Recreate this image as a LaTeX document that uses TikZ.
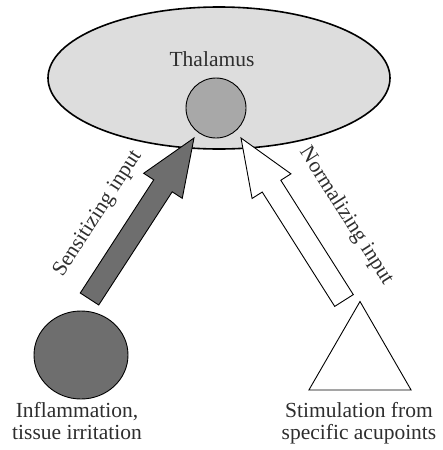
\documentclass[tikz,border=0pt]{standalone}
\usepackage{fontspec}
\setmainfont{Liberation Serif}
\usetikzlibrary{calc,shapes.geometric}
\definecolor{thalfill}{gray}{0.865}
\definecolor{corefill}{gray}{0.66}
\definecolor{darkfill}{gray}{0.43}
\definecolor{txt}{gray}{0.18}
\newcommand\blockarrow[3]{%
  \coordinate (#2-h) at ($(#3)!57pt!(#2)$);
  \draw[#1] ($(#2)!11pt!90:(#3)$) -- ($(#2-h)!11pt!90:(#3)$) -- ($(#2-h)!23pt!90:(#3)$)
    -- (#3) -- ($(#2-h)!23pt!-90:(#3)$) -- ($(#2-h)!11pt!-90:(#3)$) -- ($(#2)!11pt!-90:(#3)$) -- cycle;}
\begin{document}
\begin{tikzpicture}[x=1pt,y=-1pt,
  lbl/.style={text=txt,font=\fontsize{21.5}{22}\selectfont,inner sep=0pt},
  shapeline/.style={draw=black,line width=0.9pt},
  arrowshape/.style={draw=black,line width=0.9pt,line join=miter}]
\useasboundingbox (0,0) rectangle (442,450);
% thalamus
\node[ellipse,draw=black,line width=1.6pt,fill=thalfill,minimum width=342pt,minimum height=142pt,inner sep=0pt] (thal) at (219,78) {};
\node[lbl,anchor=base] (thaltxt) at (212,66) {Thalamus};
\node[circle,shapeline,fill=corefill,minimum size=60pt,inner sep=0pt] (core) at (216,108) {};
% sources
\node[ellipse,shapeline,fill=darkfill,minimum width=94pt,minimum height=88pt,inner sep=0pt] (infl) at (81,355) {};
\node[regular polygon,regular polygon sides=3,shapeline,fill=white,minimum size=118pt,inner sep=0pt] (acu) at (360,360.5) {};
\node[lbl,align=center,anchor=base] (infltxt) at (77,439) {Inflammation,\\tissue irritation};
\node[lbl,align=center,anchor=base] (acutxt) at (359,439) {Stimulation from\\specific acupoints};
% arrows
\coordinate (sbase) at (89.5,299);
\coordinate (stip) at (194,138);
\coordinate (nbase) at (344,300.5);
\coordinate (ntip) at (241,138);
\blockarrow{arrowshape,fill=darkfill}{sbase}{stip}
\blockarrow{arrowshape,fill=white}{nbase}{ntip}
\node[lbl,rotate=57] (sens) at (98,214) {Sensitizing input};
\node[lbl,rotate=-57.6] (norm) at (346,216) {Normalizing input};
\end{tikzpicture}
\end{document}
